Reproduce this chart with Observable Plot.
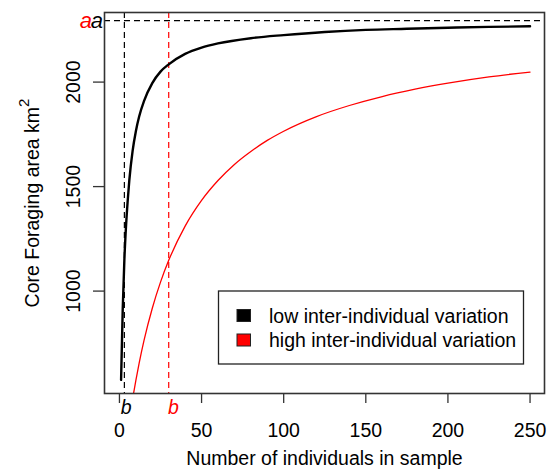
<!DOCTYPE html>
<html><head><meta charset="utf-8">
<script src="https://cdn.jsdelivr.net/npm/d3@7"></script>
<script src="https://cdn.jsdelivr.net/npm/@observablehq/plot@0.6"></script>
<style>
body{margin:0;background:#fff;}
</style>
</head><body><div id="chart"></div>
<script>
// ---- data ----
const seriesNames = ["low inter-individual variation", "high inter-individual variation"];
const seriesColors = ["#000000", "#ff0000"];

const nLow = [1,2,3,4,5,6,8,10,12,15,20,25,30,40,50,60,80,100,125,150,175,200,225,250];
const areaLow = [575,915,1150,1310,1430,1530,1670,1765,1835,1910,1995,2050,2085,2135,2165,2185,2210,2225,2240,2250,2255,2260,2264,2267];

const nHigh = [8,9,10,12,15,20,25,30,40,50,60,70,80,90,100,120,140,160,180,200,225,250];
const areaHigh = [483,529,573,655,765,918,1043,1147,1311,1434,1529,1606,1668,1721,1765,1835,1888,1931,1966,1995,2025,2048];

const asymptoteA = 2294;          // "a"
const halfSatB = [3, 30];         // "b" for low, high

const xTicks = [0, 50, 100, 150, 200, 250];
const yTicks = [1000, 1500, 2000];
const xLabel = "Number of individuals in sample";
const yLabel = "Core Foraging area km";
const yLabelSup = "2";

// ---- build tables ----
const lowRows = nLow.map((n, i) => ({n, area: areaLow[i], series: seriesNames[0]}));
const highRows = nHigh.map((n, i) => ({n, area: areaHigh[i], series: seriesNames[1]}));
const bRows = halfSatB.map((b, i) => ({b, series: seriesNames[i]}));

const font = "'Liberation Sans', Arial, Helvetica, sans-serif";

const chart = Plot.plot({
  width: 549,
  height: 472,
  marginLeft: 104,
  marginRight: 5,
  marginTop: 12,
  marginBottom: 79,
  style: {fontFamily: font, fontSize: "19.5px", background: "#fff", color: "#000"},
  x: {domain: [-9.1, 258.8]},
  y: {domain: [510, 2333]},
  color: {domain: seriesNames, range: seriesColors},
  marks: [
    Plot.ruleY([asymptoteA], {stroke: "#000", strokeWidth: 1.2, strokeDasharray: "6,4"}),
    Plot.ruleX(bRows, {x: "b", stroke: "series", strokeWidth: 1.2, strokeDasharray: "6,4"}),
    Plot.line(highRows, {x: "n", y: "area", stroke: "series", strokeWidth: 1.3, curve: "monotone-x", clip: true}),
    Plot.line(lowRows, {x: "n", y: "area", stroke: "series", strokeWidth: 2.4, curve: "monotone-x", clip: true}),
    Plot.frame({stroke: "#333", strokeWidth: 1.6}),
    Plot.axisX({ticks: xTicks, tickSize: 10, tickPadding: 20, label: null, fontSize: 19.5, stroke: "#333", strokeWidth: 1.3, tickFormat: d => String(d)}),
    Plot.axisY({ticks: yTicks, tickSize: 11, label: null, stroke: "#333", strokeWidth: 1.3, tickFormat: () => ""}),
    Plot.text(yTicks, {y: d => d, text: d => String(d), frameAnchor: "left", dx: -30.3, rotate: -90, textAnchor: "middle", lineAnchor: "middle", fontSize: 19.5}),
    Plot.text([xLabel], {frameAnchor: "bottom", dy: 71, lineAnchor: "bottom", textAnchor: "middle", fontSize: 19.5}),
    Plot.text([yLabel], {frameAnchor: "left", dx: -71.7, rotate: -90, textAnchor: "middle", lineAnchor: "middle", fontSize: 19.5}),
    // "a" labels
    Plot.text([asymptoteA], {y: d => d, text: () => "a", frameAnchor: "left", textAnchor: "end", dx: -1.5, fill: seriesColors[0], fontStyle: "italic", fontSize: 22, lineAnchor: "middle"}),
    Plot.text([asymptoteA], {y: d => d, text: () => "a", frameAnchor: "left", textAnchor: "end", dx: -12.5, fill: seriesColors[1], fontStyle: "italic", fontSize: 22, lineAnchor: "middle"}),
    // "b" labels
    Plot.text([bRows[0]], {x: "b", text: () => "b", frameAnchor: "bottom", dy: 20, dx: -3.5, lineAnchor: "bottom", textAnchor: "start", fill: "series", fontStyle: "italic", fontSize: 19.5}),
    Plot.text([bRows[1]], {x: "b", text: () => "b", frameAnchor: "bottom", dy: 20, dx: -0.8, lineAnchor: "bottom", textAnchor: "start", fill: "series", fontStyle: "italic", fontSize: 19.5})
  ]
});

document.getElementById("chart").appendChild(chart);

// superscript on y label
const svg = d3.select(chart);
svg.selectAll("text").filter(function() { return this.textContent === yLabel; })
  .append("tspan").attr("dy", "-0.68em").attr("font-size", "15px").text(yLabelSup);

// legend (inside plot area, like R's legend())
const color = chart.scale("color");
const lg = svg.append("g").attr("font-family", font).attr("font-size", "19.5px").attr("text-anchor", "start");
lg.append("rect").attr("x", 218.5).attr("y", 291).attr("width", 305).attr("height", 73)
  .attr("fill", "#fff").attr("stroke", "#222").attr("stroke-width", 1.3);
seriesNames.forEach((s, i) => {
  lg.append("rect").attr("x", 237).attr("y", 309.5 + i * 24.5).attr("width", 13.5).attr("height", 12)
    .attr("fill", color.apply(s)).attr("stroke", "#222").attr("stroke-width", 1);
  lg.append("text").attr("x", 269).attr("y", 323.3 + i * 23.6).attr("fill", "#000")
    .attr("text-anchor", "start").text(s);
});
</script>
</body></html>
